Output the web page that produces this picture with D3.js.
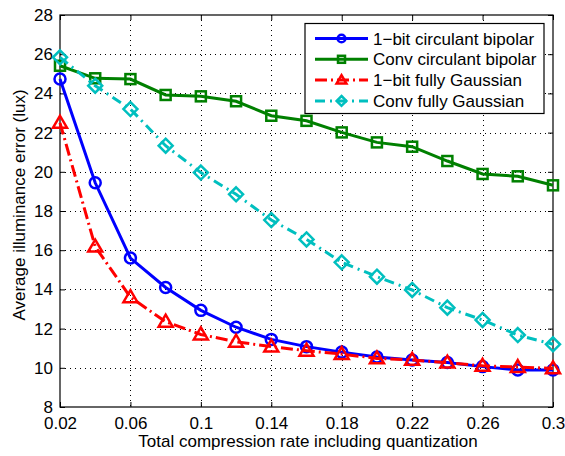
<!DOCTYPE html>
<html>
<head>
<meta charset="utf-8">
<script src="https://cdn.jsdelivr.net/npm/d3@7"></script>
<style>
  body { margin: 0; background: #fff; }
  text { font-family: "Liberation Sans", Arial, sans-serif; }
</style>
</head>
<body>
<div id="chart"></div>
<script>
// data
const rates = [0.02, 0.04, 0.06, 0.08, 0.1, 0.12, 0.14, 0.16, 0.18, 0.2, 0.22, 0.24, 0.26, 0.28, 0.3];
const oneBitCirc = [24.73, 19.44, 15.6, 14.1, 12.93, 12.07, 11.45, 11.08, 10.8, 10.55, 10.4, 10.27, 10.06, 9.89, 9.89];
const convCirc = [25.41, 24.77, 24.73, 23.92, 23.85, 23.6, 22.86, 22.6, 22.01, 21.5, 21.28, 20.55, 19.89, 19.77, 19.31];
const oneBitGauss = [22.5, 16.18, 13.6, 12.35, 11.7, 11.33, 11.08, 10.87, 10.7, 10.48, 10.4, 10.26, 10.1, 10.04, 9.97];
const convGauss = [25.84, 24.39, 23.2, 21.33, 19.96, 18.85, 17.54, 16.55, 15.38, 14.65, 13.97, 13.07, 12.44, 11.67, 11.2];
const xTicks = [0.02, 0.06, 0.1, 0.14, 0.18, 0.22, 0.26, 0.3];
const yTicks = [8, 10, 12, 14, 16, 18, 20, 22, 24, 26, 28];

const series = [
  { name: "1\u2212bit circulant bipolar", values: oneBitCirc, color: "#0000ff", dash: null, marker: "circle" },
  { name: "Conv circulant bipolar", values: convCirc, color: "#008000", dash: null, marker: "square" },
  { name: "1\u2212bit fully Gaussian", values: oneBitGauss, color: "#ff0000", dash: "12,4,2,4", marker: "triangle" },
  { name: "Conv fully Gaussian", values: convGauss, color: "#00bfbf", dash: "10,5,2,5", marker: "diamond" }
];

const width = 565, height = 456;
const pLeft = 60, pRight = 553, pTop = 15, pBottom = 407;
const fontSize = 17;

const svg = d3.select("#chart").append("svg")
  .attr("width", width)
  .attr("height", height);

const x = d3.scaleLinear().domain([0.02, 0.3]).range([pLeft, pRight]);
const y = d3.scaleLinear().domain([8, 28]).range([pBottom, pTop]);

// grid
const grid = svg.append("g").attr("stroke", "#000").attr("stroke-width", 1)
  .attr("stroke-dasharray", "1,4");
grid.selectAll(".gx").data(xTicks.slice(1, -1)).enter().append("line")
  .attr("x1", d => Math.round(x(d)) + 0.5).attr("x2", d => Math.round(x(d)) + 0.5)
  .attr("y1", pTop).attr("y2", pBottom);
grid.selectAll(".gy").data(yTicks.slice(1, -1)).enter().append("line")
  .attr("y1", d => Math.round(y(d)) + 0.5).attr("y2", d => Math.round(y(d)) + 0.5)
  .attr("x1", pLeft).attr("x2", pRight);

// axes, ticks pointing inward like matlab
const fmt = d => String(d);
svg.append("g").attr("transform", `translate(0,${pBottom})`)
  .call(d3.axisBottom(x).tickValues(xTicks).tickFormat(fmt).tickSizeInner(-5).tickSizeOuter(0).tickPadding(10));
svg.append("g").attr("transform", `translate(0,${pTop})`)
  .call(d3.axisTop(x).tickValues(xTicks).tickFormat("").tickSizeInner(-5).tickSizeOuter(0));
svg.append("g").attr("transform", `translate(${pLeft},0)`)
  .call(d3.axisLeft(y).tickValues(yTicks).tickFormat(fmt).tickSizeInner(-5).tickSizeOuter(0).tickPadding(7));
svg.append("g").attr("transform", `translate(${pRight},0)`)
  .call(d3.axisRight(y).tickValues(yTicks).tickFormat("").tickSizeInner(-5).tickSizeOuter(0));

svg.selectAll(".domain").remove();
svg.selectAll(".tick line").attr("stroke", "#000");
svg.selectAll(".tick text").attr("font-size", fontSize).attr("fill", "#000")
  .attr("font-family", "Liberation Sans, Arial, sans-serif");

svg.append("rect")
  .attr("x", pLeft).attr("y", pTop)
  .attr("width", pRight - pLeft).attr("height", pBottom - pTop)
  .attr("fill", "none").attr("stroke", "#000").attr("stroke-width", 1.2);

// marker drawing
function drawMarker(g, type, color, cx, cy, scale) {
  const s = scale || 1;
  if (type === "circle") {
    g.append("circle").attr("cx", cx).attr("cy", cy).attr("r", 5.5 * s)
      .attr("fill", "none").attr("stroke", color).attr("stroke-width", 2.5);
  } else if (type === "square") {
    const h = 5 * s;
    g.append("rect").attr("x", cx - h).attr("y", cy - h).attr("width", 2 * h).attr("height", 2 * h)
      .attr("fill", "none").attr("stroke", color).attr("stroke-width", 2.5);
  } else if (type === "triangle") {
    const h = 7 * s;
    g.append("path").attr("d", `M${cx},${cy - h}L${cx + h},${cy + h * 0.7}L${cx - h},${cy + h * 0.7}Z`)
      .attr("fill", "none").attr("stroke", color).attr("stroke-width", 2.5);
  } else {
    const h = 7 * s;
    g.append("path").attr("d", `M${cx},${cy - h}L${cx + h},${cy}L${cx},${cy + h}L${cx - h},${cy}Z`)
      .attr("fill", "none").attr("stroke", color).attr("stroke-width", 2.5);
  }
}

const line = d3.line().x((d, i) => x(rates[i])).y(d => y(d));

series.forEach(s => {
  const g = svg.append("g");
  g.append("path").datum(s.values)
    .attr("d", line)
    .attr("fill", "none")
    .attr("stroke", s.color)
    .attr("stroke-width", 3)
    .attr("stroke-dasharray", s.dash);
  s.values.forEach((v, i) => drawMarker(g, s.marker, s.color, x(rates[i]), y(v)));
});

// legend
const lg = svg.append("g");
lg.append("rect").attr("x", 305).attr("y", 23.5).attr("width", 239).attr("height", 90)
  .attr("fill", "#fff").attr("stroke", "#000").attr("stroke-width", 1.2);
series.forEach((s, i) => {
  const ly = 38.5 + i * 20.8;
  lg.append("line").attr("x1", 315).attr("x2", 368).attr("y1", ly).attr("y2", ly)
    .attr("stroke", s.color).attr("stroke-width", 3).attr("stroke-dasharray", s.dash);
  drawMarker(lg, s.marker, s.color, 341.5, ly, 0.7);
  lg.append("text").attr("x", 373).attr("y", ly + 6)
    .attr("font-size", fontSize).text(s.name);
});

// axis labels
svg.append("text")
  .attr("x", 308).attr("y", 447)
  .attr("text-anchor", "middle").attr("font-size", fontSize)
  .text("Total compression rate including quantization");
svg.append("text")
  .attr("transform", "translate(25,205) rotate(-90)")
  .attr("text-anchor", "middle").attr("font-size", fontSize)
  .text("Average illuminance error (lux)");
</script>
</body>
</html>
